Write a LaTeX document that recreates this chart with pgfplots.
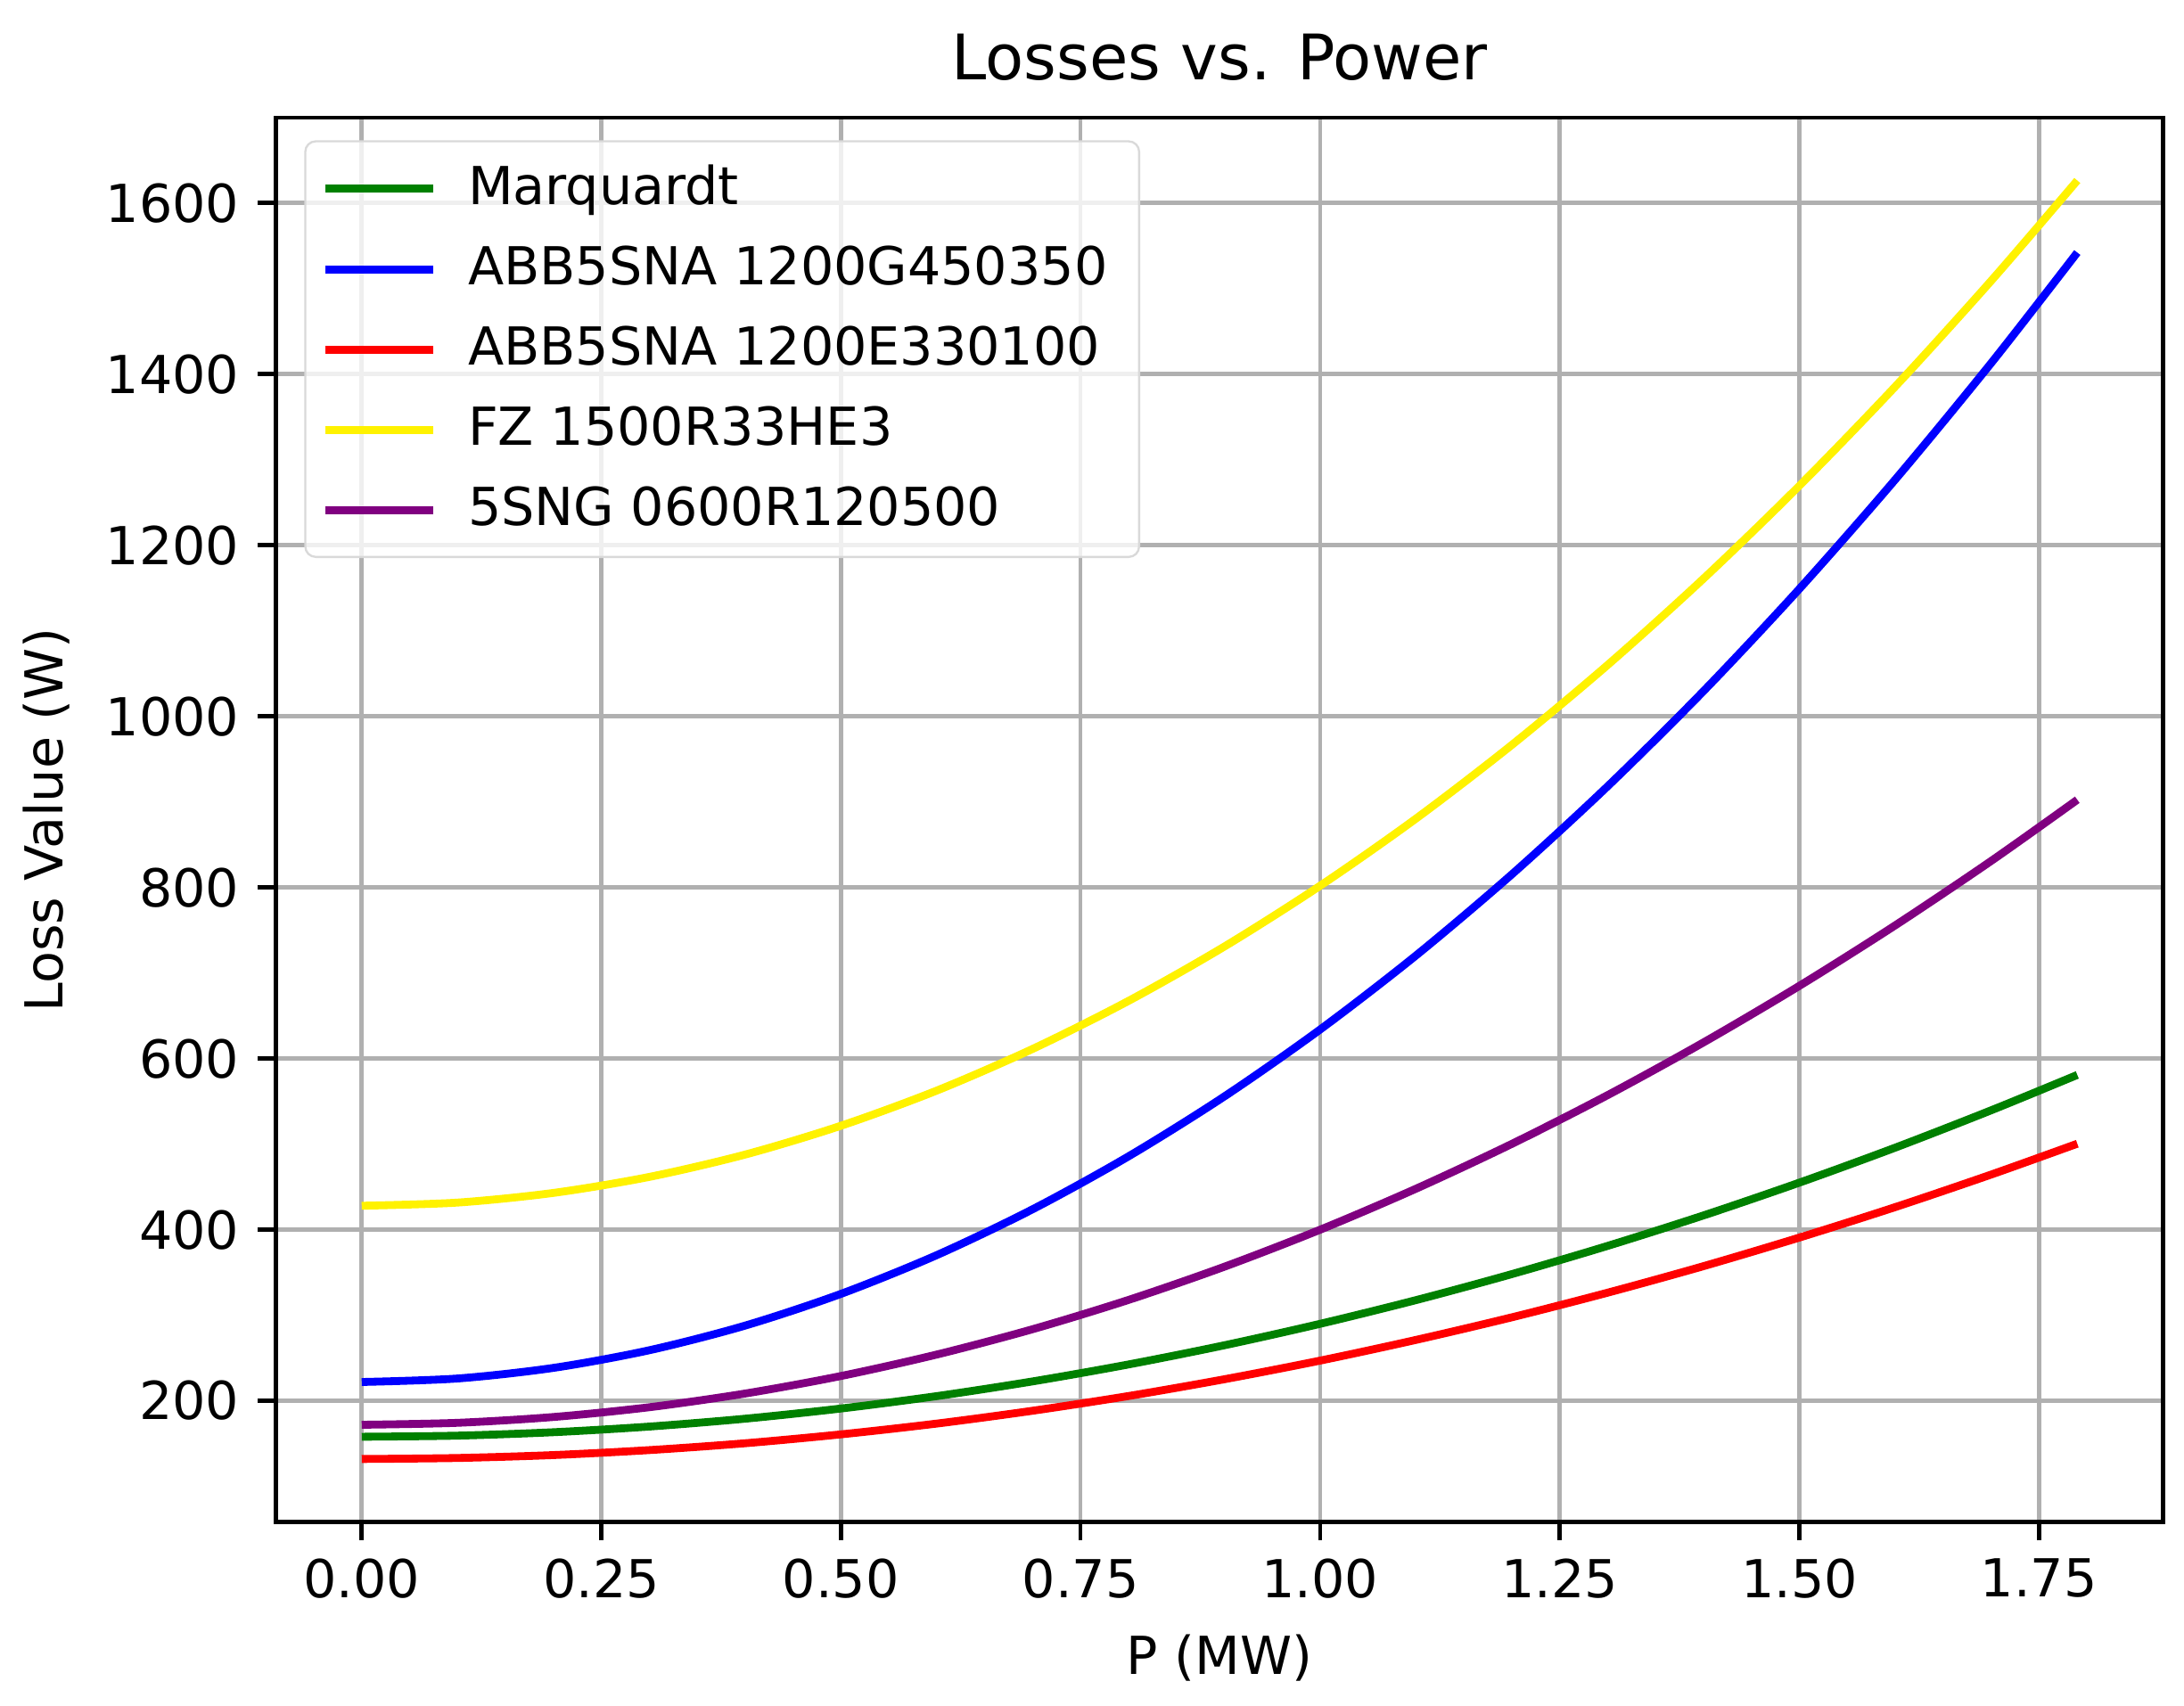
\documentclass[border=0pt]{standalone}
\usepackage{fontspec}
\setmainfont{DejaVu Sans}
\usepackage{pgfplots}
\pgfplotsset{compat=1.18}
\definecolor{mplgreen}{RGB}{0,128,0}
\definecolor{mplpurple}{RGB}{128,0,128}
\definecolor{gridgray}{RGB}{176,176,176}
\begin{document}
\begin{tikzpicture}
\begin{axis}[
  scale only axis,
  width=360.4pt, height=268.2pt,
  xmin=-0.0895, xmax=1.8795,
  ymin=58.4, ymax=1699.6,
  xtick={0,0.25,0.5,0.75,1,1.25,1.5,1.75},
  ytick={200,400,600,800,1000,1200,1400,1600},
  xticklabel style={/pgf/number format/.cd,fixed,fixed zerofill,precision=2},
  yticklabel style={/pgf/number format/.cd,fixed,precision=0,1000 sep={}},
  /pgf/number format/assume math mode=true,
  tick label style={font=\fontsize{10}{12}\selectfont},
  label style={font=\fontsize{10}{12}\selectfont},
  title style={font=\fontsize{12}{14}\selectfont, yshift=-2.5pt},
  title={Losses vs. Power},
  xlabel={P (MW)},
  ylabel={Loss Value (W)},
  grid=major,
  major grid style={gridgray, line width=0.8pt},
  axis line style={line width=0.8pt},
  tick style={black, line width=0.8pt},
  tick align=outside,
  major tick length=3.5pt,
  xtick pos=bottom, ytick pos=left,
  legend cell align=left,
  legend style={font=\fontsize{10}{12}\selectfont, draw=gray!30, rounded corners=2pt,
    fill=white, fill opacity=0.8, text opacity=1, at={(0.015,0.984)}, anchor=north west,
    row sep=2.4pt, column sep=3pt, inner ysep=2.5pt, inner xsep=3pt, nodes={inner xsep=3pt}},
  legend image code/.code={\draw[#1] (0pt,0pt) -- (20.6pt,0pt);},
  every axis plot/.append style={line width=1.5pt, smooth},
]
\addplot[mplgreen] coordinates {
(0,158) (0.1,159.3) (0.2,163.3) (0.3,169.9) (0.4,179.1) (0.5,191) (0.6,205.5) (0.7,222.7) (0.8,242.5) (0.9,264.9) (1.0,290) (1.1,317.7) (1.2,348.1) (1.3,381.1) (1.4,416.7) (1.5,455) (1.6,495.9) (1.7,539.5) (1.79,580.9)};
\addlegendentry{Marquardt}
\addplot[blue] coordinates {
(0,222) (0.1,226.1) (0.2,238.5) (0.3,259.1) (0.4,287.9) (0.5,325) (0.6,370.3) (0.7,423.9) (0.8,485.7) (0.9,555.7) (1.0,634) (1.1,720.5) (1.2,815.3) (1.3,918.3) (1.4,1029.5) (1.5,1149) (1.6,1276.7) (1.7,1412.7) (1.79,1542.1)};
\addlegendentry{ABB5SNA 1200G450350}
\addplot[red] coordinates {
(0,132) (0.1,133.2) (0.2,136.6) (0.3,142.4) (0.4,150.4) (0.5,160.8) (0.6,173.4) (0.7,188.4) (0.8,205.6) (0.9,225.2) (1.0,247) (1.1,271.2) (1.2,297.6) (1.3,326.4) (1.4,357.4) (1.5,390.8) (1.6,426.4) (1.7,464.4) (1.79,500.5)};
\addlegendentry{ABB5SNA 1200E330100}
\addplot[yellow] coordinates {
(0,428) (0.1,431.7) (0.2,443.0) (0.3,461.7) (0.4,487.8) (0.5,521.5) (0.6,562.6) (0.7,611.3) (0.8,667.4) (0.9,730.9) (1.0,802) (1.1,880.5) (1.2,966.6) (1.3,1060.1) (1.4,1161.0) (1.5,1269.5) (1.6,1385.4) (1.7,1508.9) (1.79,1626.3)};
\addlegendentry{FZ 1500R33HE3}
\addplot[mplpurple] coordinates {
(0,172) (0.1,174.3) (0.2,181.1) (0.3,192.5) (0.4,208.5) (0.5,229) (0.6,254.1) (0.7,283.7) (0.8,317.9) (0.9,356.7) (1.0,400) (1.1,447.9) (1.2,500.3) (1.3,557.3) (1.4,618.9) (1.5,685) (1.6,755.7) (1.7,830.9) (1.79,902.5)};
\addlegendentry{5SNG 0600R120500}
\end{axis}
\pgfresetboundingbox
\useasboundingbox ([shift={(-52.7pt,-35.1pt)}]current axis.south west)
  rectangle ([shift={(4pt,22.5pt)}]current axis.north east);
\end{tikzpicture}
\end{document}
